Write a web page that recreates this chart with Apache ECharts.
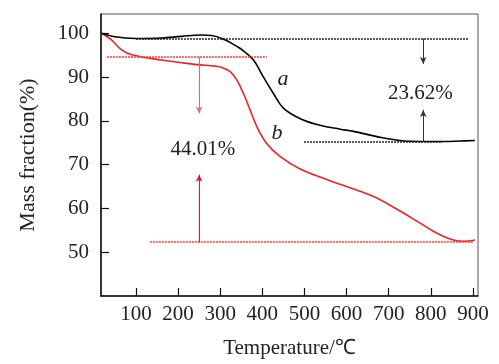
<!DOCTYPE html>
<html>
<head>
<meta charset="utf-8">
<script src="https://cdn.jsdelivr.net/npm/echarts@6/dist/echarts.min.js"></script>
<style>html,body{margin:0;padding:0;background:#fff}#c{width:499px;height:364px}</style>
</head>
<body>
<div id="c"></div>
<script>
// Curve a (black)
var tempA = [18, 50, 98, 161, 208, 256, 280, 311, 343, 355, 379, 402, 426, 450, 490, 537, 585, 616, 672, 727, 775, 830, 870, 905];
var massA = [100, 99.2, 98.8, 98.9, 99.3, 99.6, 99.5, 98.5, 96.8, 96.0, 93.9, 90.1, 86.3, 82.9, 80.5, 79.0, 78.1, 77.6, 76.4, 75.5, 75.3, 75.3, 75.4, 75.5];
// Curve b (red)
var tempB = [18, 42, 66, 90, 161, 240, 288, 300, 323, 339, 355, 371, 387, 410, 442, 490, 553, 585, 632, 672, 727, 767, 806, 838, 862, 880, 905];
var massB = [100, 98.5, 96.2, 95.1, 93.9, 92.9, 92.5, 92.3, 91.3, 89.4, 86.3, 82.5, 78.7, 74.9, 71.9, 69.0, 66.6, 65.5, 63.9, 62.4, 59.4, 57.1, 54.8, 53.3, 52.6, 52.5, 52.8];
// Ticks
var xTicks = [100, 200, 300, 400, 500, 600, 700, 800, 900];
var yTicks = [50, 60, 70, 80, 90, 100];
// Reference (dotted) levels: [value, fromT, toT]
var blackLevels = [[98.77, 100, 889], [75.2, 499, 828]];
var redLevels = [[94.67, 31, 411], [52.3, 133, 900]];
// Arrows: [T, fromV, toV]
var blackArrows = [[782, 98.77, 93.0], [782, 75.2, 82.5]];
var redArrows = [[250, 94.67, 81.7], [250, 52.3, 67.7]];
// Labels: [T, V, text]
var labelsA = [[449, 89.4, 'a'], [775, 86.2, '23.62%']];
var labelsB = [[435, 77.1, 'b'], [259, 73.5, '44.01%']];

function zip(xs, ys) { return xs.map(function (x, i) { return [x, ys[i]]; }); }
var FONT = 'Liberation Serif';

function levelLines(levels, color) {
  return levels.map(function (l) {
    return [{ coord: [l[1], l[0]], lineStyle: { color: color, type: [2, 1], width: 1.5 } },
            { coord: [l[2], l[0]] }];
  });
}
function arrowLines(arrows, colors) {
  return arrows.map(function (a, i) {
    return [{ coord: [a[0], a[1]], symbol: 'none', lineStyle: { color: colors[i], type: 'solid', width: 1 } },
            { coord: [a[0], a[2]], symbol: 'arrow' }];
  });
}
function labelPoints(labels) {
  return labels.map(function (l) {
    var italic = l[2].length === 1;
    return { coord: [l[0], l[1]], value: l[2], symbol: 'rect', symbolSize: 1,
      itemStyle: { color: 'rgba(0,0,0,0)' },
      label: { show: true, position: 'inside', formatter: l[2], color: '#222',
        fontFamily: FONT, fontSize: italic ? 22 : 21, fontStyle: italic ? 'italic' : 'normal' } };
  });
}

var chart = echarts.init(document.getElementById('c'));
chart.setOption({
  animation: false,
  backgroundColor: '#fff',
  grid: { left: 101, right: 21, top: 14, bottom: 67, show: true, borderColor: '#555', borderWidth: 1 },
  xAxis: {
    type: 'value', min: 17, max: 912,
    name: 'Temperature/℃', nameLocation: 'middle', nameGap: 42,
    nameTextStyle: { fontFamily: FONT, fontSize: 21, color: '#222' },
    axisLine: { lineStyle: { color: '#111', width: 1.5 } },
    axisTick: { inside: true, length: 8, customValues: xTicks, lineStyle: { color: '#111', width: 1.2 } },
    axisLabel: { customValues: xTicks, margin: 8, fontFamily: FONT, fontSize: 21, color: '#222' },
    splitLine: { show: false }
  },
  yAxis: {
    type: 'value', min: 40, max: 104.4,
    name: 'Mass fraction(%)', nameLocation: 'middle', nameGap: 62,
    nameTextStyle: { fontFamily: FONT, fontSize: 22, color: '#222' },
    axisLine: { show: true, lineStyle: { color: '#111', width: 1.5 } },
    axisTick: { show: true, inside: true, length: 8, customValues: yTicks, lineStyle: { color: '#111', width: 1.2 } },
    axisLabel: { customValues: yTicks, margin: 12, fontFamily: FONT, fontSize: 21, color: '#222' },
    splitLine: { show: false }
  },
  series: [
    {
      type: 'line', data: zip(tempA, massA), smooth: 0.4, symbol: 'none',
      lineStyle: { color: '#000', width: 1.6 }, z: 3,
      markLine: { silent: true, symbol: ['none', 'none'], symbolSize: [5, 7], label: { show: false },
        data: levelLines(blackLevels, '#222').concat(arrowLines(blackArrows, ['#333', '#333'])) },
      markPoint: { silent: true, data: labelPoints(labelsA) }
    },
    {
      type: 'line', data: zip(tempB, massB), smooth: 0.4, symbol: 'none',
      lineStyle: { color: '#f52020', width: 1.6 }, z: 2,
      markLine: { silent: true, symbol: ['none', 'none'], symbolSize: [5, 7], label: { show: false },
        data: levelLines(redLevels, '#f33').concat(arrowLines(redArrows, ['#f06080', '#e8102a'])) },
      markPoint: { silent: true, data: labelPoints(labelsB) }
    }
  ]
});
</script>
</body>
</html>
